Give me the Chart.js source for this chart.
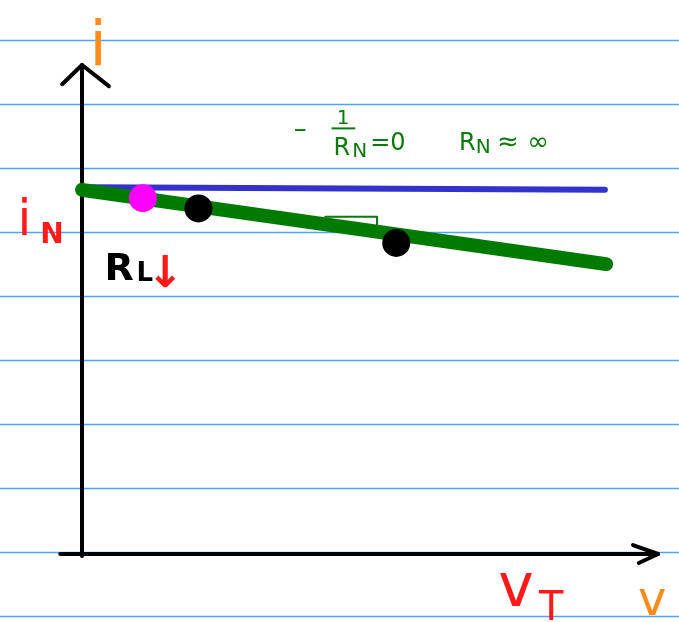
<!DOCTYPE html>
<html>
<head>
<meta charset="utf-8">
<title>Norton source: i–v characteristic</title>
<script src="https://cdn.jsdelivr.net/npm/chart.js@4.4.1/dist/chart.umd.min.js"></script>
<style>
  html, body { margin: 0; padding: 0; background: #ffffff; }
  #sketch { display: block; }
</style>
</head>
<body>
<canvas id="sketch" width="679" height="622"></canvas>
<script>
// Plane in "ruled-line" units: origin at the drawn axes, one unit = one ruled line.
const viewX = [-1.28125, 9.328125];
const viewY = [-1.0625, 8.65625];

// Ruled lines of the notebook page.
const ruledLines = [-0.96875, 0.03125, 1.03125, 2.03125, 3.03125, 4.03125, 5.03125, 6.03125, 7.03125, 8.03125];

// Ideal source (R_N -> infinity): flat current i_N.
const idealV = [0.13, 8.17];
const idealI = [5.73, 5.69];

// Real source: current falls with terminal voltage, slope -1/R_N.
const realV = [0.0, 8.19];
const realI = [5.69, 4.53];

// Operating points (the first one is the smallest load).
const firstPointV = [0.95];
const firstPointI = [5.56];
const loadPointsV = [1.82, 4.91];
const loadPointsI = [5.40, 4.86];

// Slope marker drawn under the real characteristic.
const slopeV = [3.80, 4.61, 4.61];
const slopeI = [5.27, 5.27, 5.14];

// Hand-drawn axes with arrow heads.
const iAxisV = [0, 0];
const iAxisI = [-0.03, 7.64];
const iArrowV = [-0.31, 0, 0.42];
const iArrowI = [7.34, 7.64, 7.31];
const vAxisV = [-0.34, 9.0];
const vAxisI = [0, 0];
const vArrowV = [8.61, 9.0, 8.70];
const vArrowI = [0.14, 0, -0.14];

const pts = (xs, ys) => xs.map((x, k) => ({ x: x, y: ys[k] }));

// Handwritten notes on the page.
const notes = [
  { text: 'i',   x: 0.25,  y: 7.64,  size: 62, color: '#ff8c1a', weight: '400' },
  { text: 'i',   x: -0.90, y: 4.98,  size: 50, color: '#ff1a1a', weight: '400' },
  { text: 'N',   x: -0.47, y: 4.86,  size: 28, color: '#ff1a1a', weight: '700' },
  { text: 'R',   x: 0.58,  y: 4.28,  size: 38, color: '#000000', weight: '700' },
  { text: 'L',   x: 0.98,  y: 4.27,  size: 26, color: '#000000', weight: '700' },
  { text: '↓',   x: 1.30,  y: 4.17,  size: 44, color: '#ff1a1a', weight: '700' },
  { text: '–',   x: 3.41,  y: 6.52,  size: 26, color: '#0a7a0a', weight: '400' },
  { text: '1',   x: 4.08,  y: 6.72,  size: 20, color: '#0a7a0a', weight: '400' },
  { text: 'R',   x: 4.06,  y: 6.23,  size: 24, color: '#0a7a0a', weight: '400' },
  { text: 'N',   x: 4.34,  y: 6.20,  size: 20, color: '#0a7a0a', weight: '400' },
  { text: '=0',  x: 4.78,  y: 6.31,  size: 24, color: '#0a7a0a', weight: '400' },
  { text: 'R',   x: 6.02,  y: 6.31,  size: 24, color: '#0a7a0a', weight: '400' },
  { text: 'N',   x: 6.27,  y: 6.27,  size: 20, color: '#0a7a0a', weight: '400' },
  { text: '≈ ∞', x: 6.89,  y: 6.31,  size: 26, color: '#0a7a0a', weight: '400' },
  { text: 'v',   x: 6.78,  y: -0.81, size: 60, color: '#ff1a1a', weight: '400' },
  { text: 'T',   x: 7.33,  y: -1.03, size: 40, color: '#ff1a1a', weight: '400' },
  { text: 'v',   x: 8.91,  y: -0.95, size: 48, color: '#ff8c1a', weight: '400' }
];
// Fraction bar under the "1" of -1/R_N.
const fractionBarV = [3.90, 4.27];
const fractionBarI = [6.65, 6.65];

const ruledPaper = {
  id: 'ruledPaper',
  beforeDatasetsDraw(chart) {
    const { ctx, scales } = chart;
    ctx.save();
    ctx.strokeStyle = '#4da3ff';
    ctx.lineWidth = 1.6;
    ruledLines.forEach(v => {
      const py = Math.round(scales.y.getPixelForValue(v)) + 0.5;
      ctx.beginPath();
      ctx.moveTo(0, py);
      ctx.lineTo(chart.width, py);
      ctx.stroke();
    });
    ctx.restore();
  }
};

const handNotes = {
  id: 'handNotes',
  afterDatasetsDraw(chart) {
    const { ctx, scales } = chart;
    ctx.save();
    ctx.textAlign = 'center';
    ctx.textBaseline = 'alphabetic';
    notes.forEach(n => {
      ctx.fillStyle = n.color;
      ctx.font = n.weight + ' ' + n.size + 'px "DejaVu Sans", sans-serif';
      ctx.fillText(n.text, scales.x.getPixelForValue(n.x), scales.y.getPixelForValue(n.y));
    });
    ctx.strokeStyle = '#0a7a0a';
    ctx.lineWidth = 2;
    ctx.beginPath();
    ctx.moveTo(scales.x.getPixelForValue(fractionBarV[0]), scales.y.getPixelForValue(fractionBarI[0]));
    ctx.lineTo(scales.x.getPixelForValue(fractionBarV[1]), scales.y.getPixelForValue(fractionBarI[1]));
    ctx.stroke();
    ctx.restore();
  }
};

const lineSet = (data, color, width, order) => ({
  type: 'line',
  data: data,
  borderColor: color,
  backgroundColor: color,
  borderWidth: width,
  borderCapStyle: 'round',
  borderJoinStyle: 'round',
  pointRadius: 0,
  fill: false,
  tension: 0,
  order: order
});

const pointSet = (data, color, order) => ({
  type: 'scatter',
  data: data,
  backgroundColor: color,
  borderColor: color,
  borderWidth: 0,
  pointRadius: 14,
  pointHoverRadius: 14,
  order: order
});

new Chart(document.getElementById('sketch'), {
  data: {
    datasets: [
      pointSet(pts(firstPointV, firstPointI), '#ff00ff', 0),
      pointSet(pts(loadPointsV, loadPointsI), '#000000', 0),
      lineSet(pts(realV, realI), '#007a00', 14, 1),
      lineSet(pts(slopeV, slopeI), '#0a7a0a', 2, 2),
      lineSet(pts(idealV, idealI), '#3333cc', 6, 3),
      lineSet(pts(iAxisV, iAxisI), '#000000', 4, 4),
      lineSet(pts(iArrowV, iArrowI), '#000000', 4, 4),
      lineSet(pts(vAxisV, vAxisI), '#000000', 4, 4),
      lineSet(pts(vArrowV, vArrowI), '#000000', 4, 4)
    ]
  },
  options: {
    responsive: false,
    animation: false,
    devicePixelRatio: 1,
    layout: { padding: 0, autoPadding: false },
    events: [],
    plugins: {
      legend: { display: false },
      tooltip: { enabled: false }
    },
    scales: {
      x: { type: 'linear', min: viewX[0], max: viewX[1], display: false },
      y: { type: 'linear', min: viewY[0], max: viewY[1], display: false }
    }
  },
  plugins: [ruledPaper, handNotes]
});
</script>
</body>
</html>
